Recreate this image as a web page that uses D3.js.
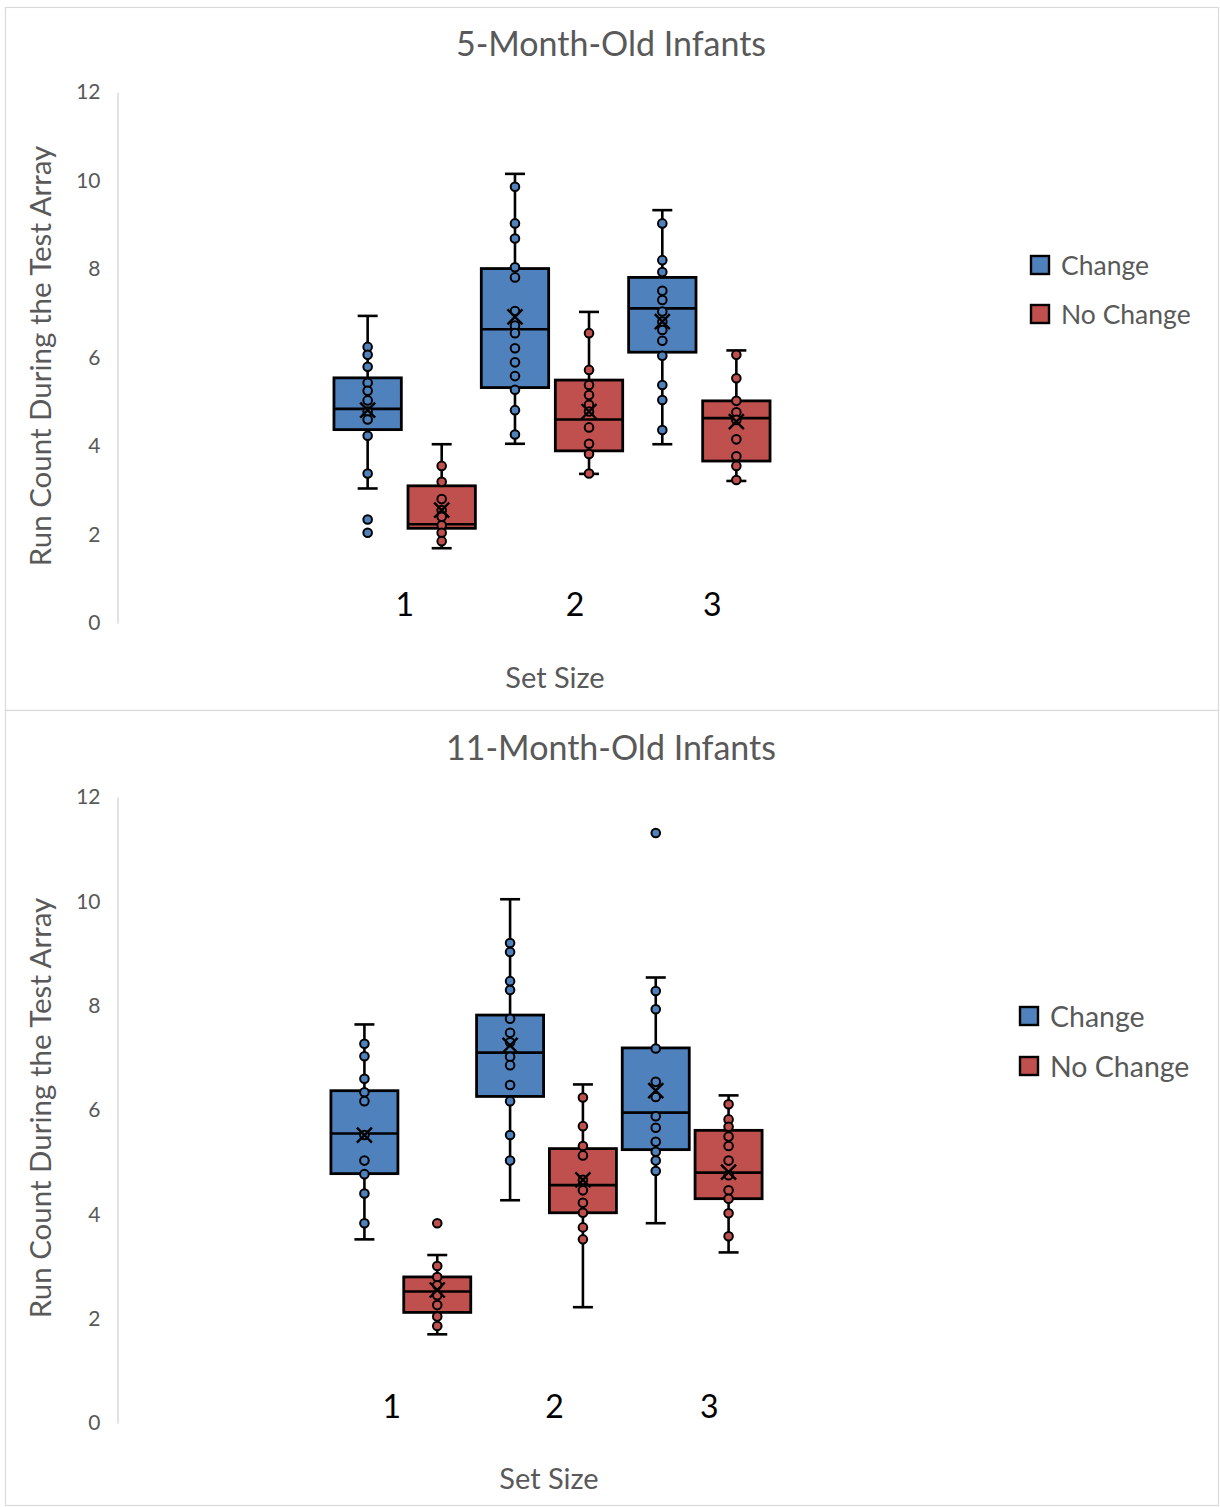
<!DOCTYPE html>
<html>
<head>
<meta charset="utf-8">
<script src="https://cdn.jsdelivr.net/npm/d3@7/dist/d3.min.js"></script>
<style>
  html, body { margin: 0; padding: 0; background: #fff; }
  svg { display: block; font-family: Lato, "Open Sans", sans-serif; }
</style>
</head>
<body>
<svg id="chart" width="1220" height="1507"></svg>
<script>
// Set sizes and groups
const categories = ["1", "2", "3"];
const seriesNames = ["Change", "No Change"];
const yTicks = [0, 2, 4, 6, 8, 10, 12];

// Box statistics per set size: [lower whisker, Q1, median, Q3, upper whisker, mean]
const m5ChangeStats = [
  [3.04, 4.37, 4.84, 5.54, 6.94, 4.81],
  [4.05, 5.32, 6.64, 8.01, 10.15, 6.92],
  [4.04, 6.12, 7.11, 7.81, 9.33, 6.81]
];
const m5NoChangeStats = [
  [1.69, 2.14, 2.23, 3.10, 4.04, 2.55],
  [3.37, 3.89, 4.60, 5.49, 7.03, 4.78],
  [3.21, 3.66, 4.63, 5.02, 6.16, 4.55]
];
const m11ChangeStats = [
  [3.52, 4.78, 5.55, 6.37, 7.64, 5.52],
  [4.27, 6.26, 7.10, 7.82, 10.04, 7.24],
  [3.83, 5.24, 5.95, 7.19, 8.54, 6.37]
];
const m11NoChangeStats = [
  [1.70, 2.12, 2.52, 2.80, 3.22, 2.55],
  [2.22, 4.03, 4.56, 5.26, 6.49, 4.66],
  [3.27, 4.30, 4.80, 5.61, 6.28, 4.81]
];

// Inner data points per set size
const m5ChangePoints = [
  [6.24, 6.06, 5.79, 5.43, 5.25, 5.03, 4.78, 4.60, 4.23, 3.38],
  [9.86, 9.03, 8.69, 8.04, 7.81, 7.05, 6.72, 6.55, 6.21, 5.89, 5.58, 5.27, 4.81, 4.26],
  [9.03, 8.20, 7.93, 7.51, 7.30, 7.04, 6.81, 6.62, 6.38, 6.04, 5.38, 5.04, 4.36]
];
const m5NoChangePoints = [
  [3.55, 3.19, 2.80, 2.55, 2.40, 2.21, 2.04, 1.85],
  [6.55, 5.72, 5.38, 5.15, 4.93, 4.78, 4.42, 4.05, 3.82, 3.38],
  [6.06, 5.53, 5.02, 4.76, 4.59, 4.15, 3.77, 3.55, 3.23]
];
const m11ChangePoints = [
  [7.27, 7.03, 6.60, 6.34, 6.17, 5.52, 5.03, 4.77, 4.40, 3.83],
  [9.20, 9.03, 8.47, 8.30, 7.75, 7.48, 7.30, 7.02, 6.86, 6.48, 6.17, 5.52, 5.03],
  [8.28, 7.93, 7.18, 6.54, 6.25, 5.88, 5.66, 5.39, 5.20, 5.03, 4.83]
];
const m11NoChangePoints = [
  [3.01, 2.80, 2.64, 2.45, 2.26, 2.04, 1.86],
  [6.24, 5.69, 5.31, 5.13, 4.66, 4.46, 4.22, 4.03, 3.75, 3.52],
  [6.11, 5.82, 5.68, 5.49, 5.31, 5.03, 4.75, 4.46, 4.30, 4.02, 3.58]
];

// Outliers beyond the whiskers
const m5ChangeOutliers = [[2.34, 2.04], [], []];
const m5NoChangeOutliers = [[], [], []];
const m11ChangeOutliers = [[], [], [11.31]];
const m11NoChangeOutliers = [[3.83], [], []];

const colors = { "Change": "#4F81BD", "No Change": "#C0504D" };

const svg = d3.select("#chart");

const panels = [
  {
    title: "5-Month-Old Infants",
    frame: [5, 7, 1213, 703],
    titleY: 56,
    yRange: [623, 92],
    xRange: [331, 773],
    sub: { inner: 0.09, outer: 0.04 },
    catY: 616, catNudge: [0, 23, 13],
    xTitleX: 555, xTitleY: 688,
    yTitleX: 41, yTitleY: 356,
    legendX: 1030, legendY: [255, 304], legendFont: 26.5,
    stats: [m5ChangeStats, m5NoChangeStats],
    points: [m5ChangePoints, m5NoChangePoints],
    outliers: [m5ChangeOutliers, m5NoChangeOutliers]
  },
  {
    title: "11-Month-Old Infants",
    frame: [5, 710, 1213, 795],
    titleY: 760,
    yRange: [1423, 797],
    xRange: [328, 765],
    sub: { inner: 0.08, outer: 0.04 },
    catY: 1418, catNudge: [-9, 8, 17],
    xTitleX: 549, xTitleY: 1489,
    yTitleX: 41, yTitleY: 1108,
    legendX: 1019, legendY: [1006, 1056], legendFont: 28.5,
    stats: [m11ChangeStats, m11NoChangeStats],
    points: [m11ChangePoints, m11NoChangePoints],
    outliers: [m11ChangeOutliers, m11NoChangeOutliers]
  }
];

panels.forEach(p => {
  const g = svg.append("g");

  // Panel frame
  g.append("rect")
    .attr("x", p.frame[0] + 0.5).attr("y", p.frame[1] + 0.5)
    .attr("width", p.frame[2]).attr("height", p.frame[3])
    .attr("fill", "#fff").attr("stroke", "#D9D9D9").attr("stroke-width", 1.2);

  // Title
  g.append("text")
    .attr("x", 611).attr("y", p.titleY)
    .attr("text-anchor", "middle")
    .attr("font-size", 34).attr("fill", "#595959")
    .text(p.title);

  const y = d3.scaleLinear().domain([0, 12]).range(p.yRange);
  const x = d3.scaleBand().domain(categories).range(p.xRange).paddingInner(0).paddingOuter(0);
  const xs = d3.scaleBand().domain(seriesNames).range([0, x.bandwidth()])
    .paddingInner(p.sub.inner).paddingOuter(p.sub.outer);

  // Y axis
  const yAxis = g.append("g")
    .attr("transform", "translate(117.5,0)")
    .call(d3.axisLeft(y).tickValues(yTicks).tickSize(0).tickPadding(17));
  yAxis.select(".domain").attr("stroke", "#D9D9D9").attr("stroke-width", 1.5);
  yAxis.selectAll("text").attr("font-size", 21).attr("fill", "#595959")
    .attr("font-family", "Lato, sans-serif");

  // Y axis title
  g.append("text")
    .attr("transform", `translate(${p.yTitleX},${p.yTitleY}) rotate(-90)`)
    .attr("text-anchor", "middle").attr("dy", "0.35em")
    .attr("font-size", 29.5).attr("fill", "#595959")
    .text("Run Count During the Test Array");

  // Category labels
  categories.forEach((c, i) => {
    g.append("text")
      .attr("x", x(c) + x.bandwidth() / 2 + p.catNudge[i])
      .attr("y", p.catY)
      .attr("text-anchor", "middle")
      .attr("font-size", 32).attr("fill", "#000")
      .text(c);
  });

  // X axis title
  g.append("text")
    .attr("x", p.xTitleX).attr("y", p.xTitleY)
    .attr("text-anchor", "middle")
    .attr("font-size", 29).attr("fill", "#595959")
    .text("Set Size");

  // Boxes
  seriesNames.forEach((s, si) => {
    categories.forEach((c, ci) => {
      const [lo, q1, med, q3, hi, mean] = p.stats[si][ci];
      const bw = xs.bandwidth();
      const x0 = x(c) + xs(s);
      const cx = x0 + bw / 2;
      const bg = g.append("g");
      const capW = 20;

      // whiskers
      bg.append("line").attr("x1", cx).attr("x2", cx).attr("y1", y(hi)).attr("y2", y(lo))
        .attr("stroke", "#000").attr("stroke-width", 2.6);
      [lo, hi].forEach(v => {
        bg.append("line").attr("x1", cx - capW / 2).attr("x2", cx + capW / 2)
          .attr("y1", y(v)).attr("y2", y(v))
          .attr("stroke", "#000").attr("stroke-width", 2.6);
      });

      // box
      bg.append("rect")
        .attr("x", x0).attr("y", y(q3))
        .attr("width", bw).attr("height", y(q1) - y(q3))
        .attr("fill", colors[s]).attr("stroke", "#000").attr("stroke-width", 2.8);
      bg.append("line").attr("x1", x0).attr("x2", x0 + bw).attr("y1", y(med)).attr("y2", y(med))
        .attr("stroke", "#000").attr("stroke-width", 2.6);

      // inner points and outliers
      const pts = p.points[si][ci].concat(p.outliers[si][ci]);
      bg.selectAll("circle.pt").data(pts).join("circle")
        .attr("class", "pt")
        .attr("cx", cx).attr("cy", d => y(d)).attr("r", 4.3)
        .attr("fill", colors[s]).attr("stroke", "#000").attr("stroke-width", 2);

      // mean marker
      const m = 7.5, my = y(mean);
      bg.append("path")
        .attr("d", `M${cx - m},${my - m}L${cx + m},${my + m}M${cx - m},${my + m}L${cx + m},${my - m}`)
        .attr("stroke", "#000").attr("stroke-width", 2.4).attr("fill", "none");
    });
  });

  // Legend
  seriesNames.forEach((s, si) => {
    const ly = p.legendY[si];
    g.append("rect")
      .attr("x", p.legendX + 1).attr("y", ly + 1)
      .attr("width", 18).attr("height", 18)
      .attr("fill", colors[s]).attr("stroke", "#000").attr("stroke-width", 2.4);
    g.append("text")
      .attr("x", p.legendX + 31).attr("y", ly + 11)
      .attr("dy", "0.35em")
      .attr("font-size", p.legendFont).attr("fill", "#595959")
      .text(s);
  });
});
</script>
</body>
</html>
